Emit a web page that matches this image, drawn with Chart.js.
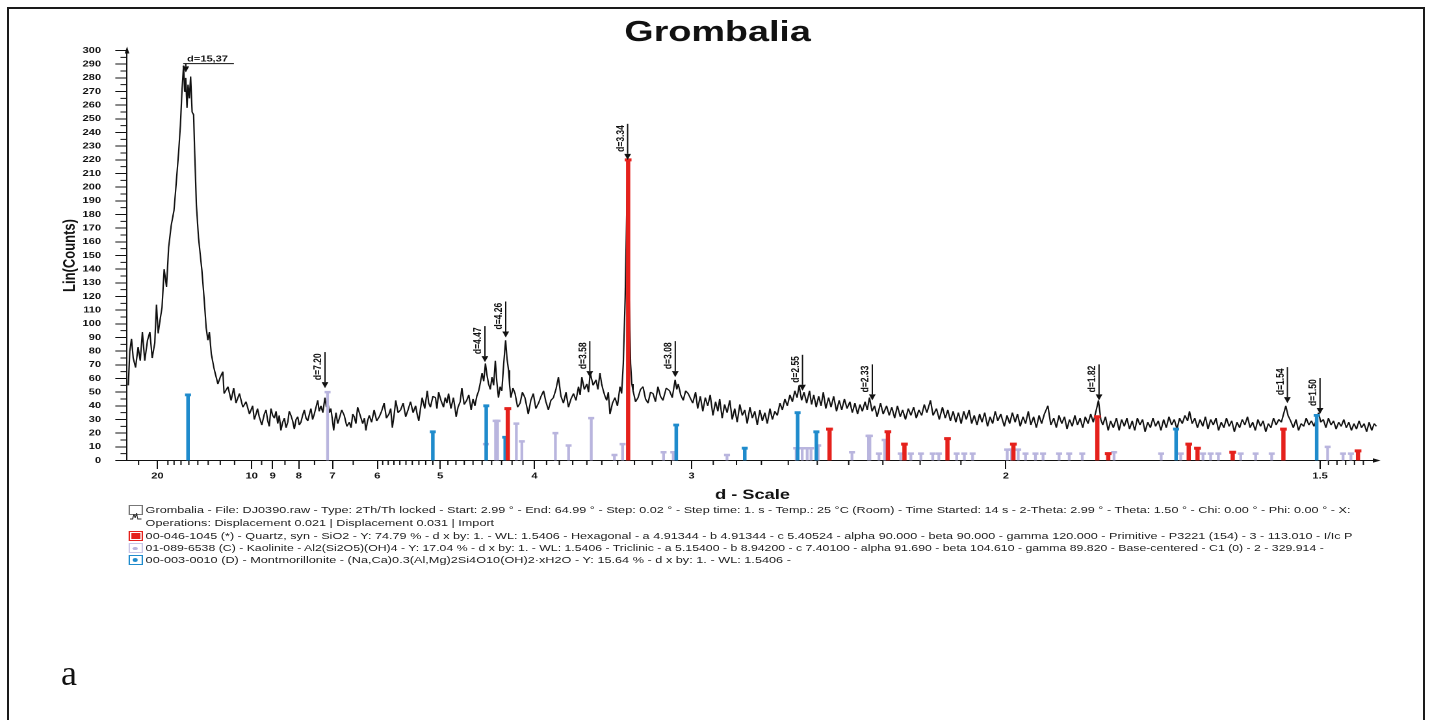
<!DOCTYPE html>
<html lang="en">
<head>
<meta charset="UTF-8">
<title>Grombalia</title>
<script src="https://cdn.jsdelivr.net/npm/chart.js"></script>
<style>
  body { margin: 0; background: #fff; font-family: "Liberation Sans", Arial, sans-serif; }
  #frame {
    position: absolute; left: 7px; top: 7px; width: 1414px; height: 730px;
    border-left: 2px solid #1a1a1a; border-top: 2px solid #1a1a1a; border-right: 2px solid #1a1a1a;
  }
  /* the whole figure is drawn 1.3x wider than tall */
  #stretch { position: absolute; left: 0; top: 0; width: 1104px; height: 720px; transform: scaleX(1.3); transform-origin: 0 0; }
  #xrd { position: absolute; left: 0; top: 0; }
  .info { position: absolute; left: 111.5px; font-size: 9.5px; line-height: 12px; color: #222; white-space: nowrap; transform-origin: 0 50%; }
  .icon { position: absolute; left: 98.5px; width: 9px; height: 8px; border: 1px solid #777; background: #fff; }
  .icon i { position: absolute; display: block; }
  #panel { position: absolute; left: 61px; top: 652px; font: 36px "Liberation Serif", "Times New Roman", serif; color: #111; }
</style>
</head>
<body>
<div id="frame"></div>
<div id="stretch">
  <canvas id="xrd" width="1104" height="510"></canvas>

  <div class="icon" style="top:505px;">
    <svg width="9" height="8" viewBox="0 0 9 8"><polyline points="0,7 2,7 3,2 4,6 5,1 6,7 9,7" fill="none" stroke="#333" stroke-width="0.8"/></svg>
  </div>
  <div class="info" style="top:504px;" data-w="927">Grombalia - File: DJ0390.raw - Type: 2Th/Th locked - Start: 2.99 ° - End: 64.99 ° - Step: 0.02 ° - Step time: 1. s - Temp.: 25 °C (Room) - Time Started: 14 s - 2-Theta: 2.99 ° - Theta: 1.50 ° - Chi: 0.00 ° - Phi: 0.00 ° - X:</div>
  <div class="info" style="top:517px;" data-w="268">Operations: Displacement 0.021 | Displacement 0.031 | Import</div>

  <div class="icon" style="top:531px; border-color:#e5211c;"><i style="left:1px;top:1px;width:7px;height:6px;background:#e5211c;"></i></div>
  <div class="info" style="top:530px;" data-w="928">00-046-1045 (*) - Quartz, syn - SiO2 - Y: 74.79 % - d x by: 1. - WL: 1.5406 - Hexagonal - a 4.91344 - b 4.91344 - c 5.40524 - alpha 90.000 - beta 90.000 - gamma 120.000 - Primitive - P3221 (154) - 3 - 113.010 - I/Ic P</div>

  <div class="icon" style="top:543px; border-color:#c9c6e6;"><i style="left:2.5px;top:2.5px;width:4px;height:3px;border-radius:2px;background:#b9b5de;"></i></div>
  <div class="info" style="top:542px;" data-w="906">01-089-6538 (C) - Kaolinite - Al2(Si2O5)(OH)4 - Y: 17.04 % - d x by: 1. - WL: 1.5406 - Triclinic - a 5.15400 - b 8.94200 - c 7.40100 - alpha 91.690 - beta 104.610 - gamma 89.820 - Base-centered - C1 (0) - 2 - 329.914 -</div>

  <div class="icon" style="top:555px; border-color:#1f8bcc;"><i style="left:2.5px;top:2px;width:4px;height:4px;border-radius:2px;background:#1f8bcc;"></i></div>
  <div class="info" style="top:554px;" data-w="496">00-003-0010 (D) - Montmorillonite - (Na,Ca)0.3(Al,Mg)2Si4O10(OH)2·xH2O - Y: 15.64 % - d x by: 1. - WL: 1.5406 -</div>
</div>
<div id="panel">a</div>

<script>
  // scan settings (Cu K-alpha)
  const wavelength = 1.5406;
  const twoThetaStart = 2.99;
  const twoThetaEnd = 64.99;

  // measured pattern, smectite peak region: 2-theta (deg) and counts
  const lowTwoTheta = [
    3.05, 3.12, 3.20, 3.28, 3.39, 3.51, 3.61, 3.71, 3.82, 3.95, 4.06, 4.17, 4.29, 4.37, 4.45, 4.54, 4.63, 4.73, 4.84, 4.94,
    5.06, 5.19, 5.26, 5.41, 5.49, 5.57, 5.64, 5.69, 5.74, 5.80, 5.85, 5.91, 5.97, 6.04, 6.11, 6.16, 6.24, 6.34, 6.50, 6.61,
    6.70, 6.78, 6.85, 6.94, 7.06, 7.12, 7.25, 7.36, 7.48, 7.54, 7.72, 7.87, 7.99, 8.10, 8.26, 8.42, 8.57, 8.73
  ];
  const lowCounts = [
    55, 80, 89, 75, 68, 83, 73, 94, 73, 88, 94, 75, 86, 114, 93, 103, 112, 140, 127, 156,
    172, 183, 196, 226, 245, 272, 289, 270, 280, 258, 275, 265, 281, 255, 253, 226, 187, 163, 139, 117,
    97, 88, 94, 78, 68, 64, 56, 61, 65, 49, 54, 44, 53, 42, 49, 39, 43, 34
  ];

  // measured pattern, middle angles
  const midTwoTheta = [
    8.88, 8.96, 9.04, 9.11, 9.19, 9.31, 9.43, 9.51, 9.59, 9.66,
    9.74, 9.82, 9.90, 9.98, 10.06, 10.13, 10.21, 10.29, 10.37, 10.45,
    10.53, 10.60, 10.68, 10.76, 10.84, 10.92, 11.00, 11.07, 11.15, 11.23,
    11.31, 11.39, 11.47, 11.55, 11.62, 11.70, 11.78, 11.86, 11.94, 12.01,
    12.09, 12.18, 12.28, 12.35, 12.41, 12.49, 12.56, 12.63, 12.69, 12.75,
    12.80, 12.88, 12.96, 13.07, 13.19, 13.31, 13.43, 13.51, 13.59, 13.66,
    13.74, 13.82, 13.94, 14.06, 14.14, 14.21, 14.29, 14.37, 14.48, 14.60,
    14.72, 14.84, 14.95, 15.07, 15.18, 15.30, 15.38, 15.46, 15.54, 15.62,
    15.73, 15.85, 15.97, 16.09, 16.20, 16.32, 16.44, 16.56, 16.63, 16.71,
    16.79, 16.87, 16.99, 17.11, 17.18, 17.26, 17.38, 17.50, 17.57, 17.65,
    17.76, 17.88, 17.96, 18.04, 18.12, 18.23, 18.35, 18.41, 18.48, 18.57,
    18.67, 18.75, 18.86, 18.98, 19.08, 19.19, 19.28, 19.37, 19.46, 19.55,
    19.63, 19.71, 19.79, 19.87, 19.95, 20.02, 20.10, 20.18, 20.26, 20.34,
    20.41, 20.49, 20.57, 20.65, 20.74, 20.83, 20.90, 20.97, 21.02, 21.08,
    21.18, 21.28, 21.40, 21.52, 21.63, 21.75, 21.83, 21.91, 22.03, 22.15,
    22.27, 22.40, 22.52, 22.64, 22.75, 22.87, 22.99, 23.11, 23.23, 23.35,
    23.47, 23.59, 23.71, 23.83, 23.95, 24.07, 24.19, 24.31, 24.39, 24.47,
    24.59, 24.71, 24.79, 24.87, 25.01, 25.15, 25.24, 25.34, 25.42, 25.50,
    25.58, 25.66, 25.74, 25.82, 25.94, 26.06, 26.18, 26.30, 26.38, 26.46,
    26.55, 26.67, 26.74, 26.81, 26.87, 26.93, 27.05, 27.17, 27.29, 27.41,
    27.53, 27.65, 27.77, 27.89, 28.01, 28.13, 28.25, 28.37, 28.53, 28.69,
    28.82, 28.96, 29.04, 29.11, 29.23, 29.35, 29.47, 29.59
  ];
  const midCounts = [
    40, 30, 34, 38, 32, 26, 34, 37, 29, 25,
    38, 33, 31, 36, 27, 33, 22, 28, 31, 24,
    28, 36, 33, 29, 23, 30, 32, 26, 28, 33,
    37, 31, 29, 34, 38, 30, 34, 39, 44, 36,
    40, 35, 46, 39, 43, 35, 38, 30, 22, 30,
    35, 27, 31, 37, 33, 25, 28, 24, 34, 32,
    27, 39, 33, 27, 31, 22, 29, 33, 28, 37,
    29, 32, 36, 42, 31, 34, 38, 24, 33, 44,
    35, 37, 42, 32, 37, 43, 35, 40, 34, 29,
    38, 46, 38, 51, 42, 39, 47, 46, 38, 50,
    44, 39, 46, 42, 49, 38, 46, 40, 32, 39,
    43, 53, 41, 44, 48, 37, 45, 40, 47, 51,
    57, 64, 58, 71, 62, 56, 52, 61, 55, 73,
    58, 46, 54, 51, 71, 88, 74, 66, 55, 46,
    53, 49, 39, 42, 50, 46, 40, 34, 44, 49,
    38, 42, 47, 51, 43, 37, 44, 46, 52, 61,
    47, 42, 50, 39, 45, 49, 44, 54, 48, 61,
    52, 56, 50, 64, 55, 59, 52, 64, 56, 51,
    47, 44, 50, 34, 42, 46, 40, 54, 49, 71,
    119, 220, 119, 71, 56, 51, 43, 46, 52, 54,
    45, 42, 50, 49, 43, 54, 47, 44, 53, 51,
    46, 59, 52, 56, 48, 44, 51, 49
  ];

  // measured pattern, high angles
  const highTwoTheta = [
    29.81, 29.95, 30.05, 30.18, 30.30, 30.42, 30.54, 30.66, 30.79, 30.92,
    31.03, 31.12, 31.24, 31.36, 31.48, 31.61, 31.73, 31.85, 31.97, 32.10,
    32.22, 32.34, 32.46, 32.59, 32.71, 32.83, 32.95, 33.08, 33.20, 33.32,
    33.44, 33.57, 33.69, 33.81, 33.93, 34.06, 34.18, 34.30, 34.42, 34.55,
    34.67, 34.79, 34.90, 35.00, 35.12, 35.24, 35.37, 35.51, 35.61, 35.72,
    35.84, 35.96, 36.08, 36.19, 36.31, 36.45, 36.57, 36.70, 36.84, 36.97,
    37.10, 37.23, 37.36, 37.50, 37.62, 37.75, 37.88, 38.00, 38.12, 38.25,
    38.36, 38.47, 38.60, 38.72, 38.85, 39.02, 39.15, 39.32, 39.45, 39.58,
    39.72, 39.86, 40.00, 40.12, 40.26, 40.40, 40.53, 40.67, 40.80, 40.93,
    41.07, 41.20, 41.33, 41.51, 41.64, 41.81, 41.95, 42.11, 42.25, 42.38,
    42.51, 42.65, 42.78, 42.91, 43.05, 43.18, 43.31, 43.45, 43.58, 43.71,
    43.85, 43.98, 44.10, 44.24, 44.38, 44.51, 44.64, 44.77, 44.90, 45.05,
    45.23, 45.37, 45.50, 45.64, 45.78, 45.90, 46.04, 46.18, 46.31, 46.45,
    46.58, 46.72, 46.86, 47.00, 47.13, 47.27, 47.45, 47.60, 47.75, 47.88,
    48.02, 48.16, 48.30, 48.43, 48.56, 48.70, 48.83, 48.97, 49.10, 49.24,
    49.37, 49.51, 49.65, 49.78, 49.92, 50.05, 50.17, 50.27, 50.41, 50.55,
    50.68, 50.82, 50.98, 51.12, 51.25, 51.39, 51.52, 51.66, 51.80, 51.93,
    52.07, 52.20, 52.34, 52.47, 52.61, 52.75, 52.88, 53.02, 53.16, 53.30,
    53.44, 53.58, 53.72, 53.86, 54.00, 54.14, 54.28, 54.42, 54.56, 54.70,
    54.80, 54.94, 55.08, 55.22, 55.36, 55.50, 55.64, 55.78, 55.92, 56.06,
    56.20, 56.34, 56.48, 56.62, 56.76, 56.90, 57.04, 57.18, 57.32, 57.46,
    57.60, 57.74, 57.88, 58.02, 58.16, 58.30, 58.44, 58.58, 58.72, 58.86,
    59.00, 59.14, 59.28, 59.42, 59.56, 59.70, 59.84, 59.94, 60.06, 60.20,
    60.35, 60.49, 60.63, 60.77, 60.91, 61.05, 61.19, 61.33, 61.47, 61.60,
    61.72, 61.84, 61.98, 62.12, 62.26, 62.40, 62.54, 62.68, 62.82, 62.96,
    63.10, 63.24, 63.38, 63.52, 63.66, 63.80, 63.94, 64.08, 64.22, 64.36,
    64.50, 64.64, 64.78, 64.90
  ];
  const highCounts = [
    42, 50, 38, 47, 36, 46, 40, 48, 33, 43,
    36, 45, 31, 41, 35, 44, 30, 38, 28, 41,
    33, 37, 27, 39, 31, 36, 26, 37, 29, 35,
    27, 38, 30, 36, 33, 42, 37, 45, 40, 48,
    43, 51, 46, 55, 44, 50, 42, 51, 41, 48,
    39, 47, 40, 50, 38, 46, 39, 47, 36, 44,
    37, 45, 38, 43, 35, 42, 34, 41, 36, 43,
    37, 46, 36, 40, 32, 42, 34, 40, 33, 39,
    31, 40, 32, 37, 30, 38, 33, 39, 31, 37,
    33, 41, 35, 44, 33, 38, 30, 39, 31, 37,
    29, 36, 28, 35, 27, 36, 30, 37, 27, 33,
    26, 34, 28, 35, 25, 32, 27, 36, 29, 34,
    25, 33, 27, 35, 28, 34, 25, 32, 27, 36,
    26, 32, 24, 33, 27, 34, 40, 26, 31, 24,
    33, 27, 32, 23, 30, 25, 33, 26, 31, 24,
    32, 27, 34, 28, 36, 44, 30, 26, 32, 22,
    29, 24, 31, 22, 30, 25, 31, 23, 29, 22,
    31, 26, 30, 21, 28, 24, 31, 25, 29, 22,
    30, 24, 32, 26, 30, 23, 31, 27, 33, 29,
    36, 27, 31, 24, 30, 25, 32, 23, 30, 26,
    31, 22, 28, 24, 31, 25, 29, 21, 28, 24,
    30, 26, 32, 24, 28, 22, 30, 25, 29, 21,
    27, 24, 31, 26, 30, 28, 35, 40, 33, 29,
    24, 30, 22, 27, 25, 31, 26, 29, 25, 30,
    35, 28, 30, 24, 31, 26, 29, 23, 28, 25,
    30, 24, 28, 22, 27, 23, 29, 24, 27, 21,
    28, 22, 27, 25
  ];

  // reference patterns: d-spacing (Å) and stick height (counts)
  const quartzD = [4.24, 3.337, 2.460, 2.286, 2.241, 2.132, 1.984, 1.823, 1.804, 1.675, 1.662, 1.612, 1.545, 1.456];
  const quartzI = [38, 220, 23, 21, 12, 16, 12, 32, 5, 12, 9, 6, 23, 7];

  const kaoliniteD = [7.13, 4.46, 4.36, 4.34, 4.16, 4.11, 3.83, 3.73, 3.57, 3.42, 3.37, 3.14, 3.09, 2.84,
    2.572, 2.551, 2.534, 2.521, 2.497, 2.390, 2.341, 2.337, 2.311, 2.295, 2.251, 2.224, 2.198, 2.168, 2.153,
    2.110, 2.092, 2.073, 1.997, 1.988, 1.974, 1.959, 1.939, 1.924, 1.893, 1.874, 1.850, 1.794, 1.717, 1.687,
    1.654, 1.643, 1.632, 1.601, 1.581, 1.560, 1.491, 1.473, 1.464];
  const kaoliniteI = [50, 12, 29, 29, 27, 14, 20, 11, 31, 4, 12, 6, 6, 4,
    9, 9, 9, 9, 11, 6, 18, 18, 5, 15, 5, 5, 5, 5, 5,
    5, 5, 5, 8, 8, 8, 5, 5, 5, 5, 5, 5, 6, 5, 5,
    5, 5, 5, 5, 5, 5, 10, 5, 5];

  const montmorilloniteD = [15.10, 5.10, 4.456, 4.265, 3.075, 2.766, 2.567, 2.503, 1.694, 1.504];
  const montmorilloniteI = [48, 21, 40, 17, 26, 9, 35, 21, 23, 33];

  // labelled peaks
  const peakD = [15.37, 7.20, 4.47, 4.26, 3.58, 3.34, 3.08, 2.55, 2.33, 1.82, 1.54, 1.50];
  const peakLabels = ['d=15,37', 'd=7.20', 'd=4.47', 'd=4.26', 'd=3.58', 'd=3.34', 'd=3.08', 'd=2.55', 'd=2.33', 'd=1.82', 'd=1.54', 'd=1.50'];
  const peakTips = [284, 53, 72, 90, 61, 220, 61, 51, 44, 44, 42, 34];

  // d-scale ticks
  const majorTickD = [20, 10, 9, 8, 7, 6, 5, 4, 3, 2, 1.5];
  const majorTickLabels = ['20', '10', '9', '8', '7', '6', '5', '4', '3', '2', '1.5'];
  const minorTickD = [25, 18, 17, 16, 15, 14, 13, 12, 11, 9.5, 8.5, 7.5, 6.5,
    5.9, 5.8, 5.7, 5.6, 5.5, 5.4, 5.3, 5.2, 5.1, 4.9, 4.8, 4.7, 4.6, 4.5, 4.4, 4.3, 4.2, 4.1,
    3.9, 3.8, 3.7, 3.6, 3.5, 3.4, 3.3, 3.2, 3.1, 2.9, 2.8, 2.7, 2.6, 2.5, 2.4, 2.3, 2.2, 2.1,
    1.49, 1.48, 1.47, 1.46, 1.45];

  const yTickLabels = { min: 0, max: 300, step: 10 };

  // the x axis runs linearly in 1/d
  const recip = tt => 2 * Math.sin(tt / 2 * Math.PI / 180) / wavelength;
  const sticks = (ds, is) => ds.map((d, i) => ({ x: 1 / d, y: is[i] }));
  const toPoints = (tts, cs) => tts.map((tt, i) => ({ x: recip(tt), y: cs[i] }));

  const scan = toPoints(lowTwoTheta, lowCounts)
    .concat(toPoints(midTwoTheta, midCounts))
    .concat(toPoints(highTwoTheta, highCounts));

  const RED = '#e5211c', BLUE = '#1f8bcc', LAV = '#b9b5de', INK = '#111';
  const FONT = '"Liberation Sans", Arial, sans-serif';

  const decorations = {
    id: 'decorations',
    afterDatasetsDraw(chart) {
      const { ctx, chartArea: a, scales: { x, y } } = chart;
      ctx.save();
      ctx.strokeStyle = INK;
      ctx.fillStyle = INK;
      ctx.lineWidth = 1;

      // minor ticks
      ctx.beginPath();
      minorTickD.forEach(d => {
        const px = x.getPixelForValue(1 / d);
        ctx.moveTo(px, a.bottom);
        ctx.lineTo(px, a.bottom + 4.5);
      });
      for (let v = yTickLabels.min + 5; v < yTickLabels.max; v += yTickLabels.step) {
        const py = y.getPixelForValue(v);
        ctx.moveTo(a.left - 5, py);
        ctx.lineTo(a.left, py);
      }
      ctx.stroke();

      // axis arrow heads
      ctx.beginPath();
      ctx.moveTo(a.left, a.top - 4);
      ctx.lineTo(a.left - 1.8, a.top + 3);
      ctx.lineTo(a.left + 1.8, a.top + 3);
      ctx.closePath();
      ctx.fill();
      ctx.beginPath();
      ctx.moveTo(a.right + 2, a.bottom);
      ctx.lineTo(a.right - 4, a.bottom - 2.2);
      ctx.lineTo(a.right - 4, a.bottom + 2.2);
      ctx.closePath();
      ctx.fill();

      // peak markers
      ctx.font = 'bold 8.5px ' + FONT;
      peakD.forEach((d, i) => {
        const px = x.getPixelForValue(1 / d);
        const tip = y.getPixelForValue(peakTips[i]);
        ctx.beginPath();
        ctx.moveTo(px, tip);
        ctx.lineTo(px - 2.6, tip - 6);
        ctx.lineTo(px + 2.6, tip - 6);
        ctx.closePath();
        ctx.fill();
        ctx.beginPath();
        if (i === 0) {
          ctx.moveTo(px, tip - 6);
          ctx.lineTo(px, tip - 8.7);
          ctx.moveTo(px - 2, tip - 8.7);
          ctx.lineTo(px + 37, tip - 8.7);
          ctx.stroke();
          ctx.textAlign = 'left';
          ctx.textBaseline = 'alphabetic';
          ctx.fillText(peakLabels[i], px + 1, tip - 11);
        } else {
          ctx.moveTo(px, tip - 6);
          ctx.lineTo(px, tip - 36);
          ctx.stroke();
          ctx.save();
          ctx.translate(px - 1, tip - 8);
          ctx.rotate(-Math.PI / 2);
          ctx.textAlign = 'left';
          ctx.textBaseline = 'bottom';
          ctx.fillText(peakLabels[i], 0, 0);
          ctx.restore();
        }
      });
      ctx.restore();
    }
  };

  const barSet = (data, color, thick, order) => ({
    type: 'bar', data, backgroundColor: color, barThickness: thick, grouped: false, order
  });
  const capSet = (data, color, r, w, order) => ({
    type: 'scatter', data, pointStyle: 'line', pointRadius: r, pointBorderWidth: w,
    pointBorderColor: color, pointBackgroundColor: color, order
  });

  new Chart(document.getElementById('xrd'), {
    data: {
      datasets: [
        { type: 'line', data: scan, borderColor: INK, borderWidth: 1.1, pointRadius: 0,
          tension: 0, borderJoinStyle: 'bevel', order: 8 },
        barSet(sticks(kaoliniteD, kaoliniteI), LAV, 1.5, 7),
        capSet(sticks(kaoliniteD, kaoliniteI), LAV, 2.3, 2.5, 6),
        barSet(sticks(montmorilloniteD, montmorilloniteI), BLUE, 2.1, 5),
        capSet(sticks(montmorilloniteD, montmorilloniteI), BLUE, 2.3, 2.8, 4),
        barSet(sticks(quartzD, quartzI), RED, 2.6, 3),
        capSet(sticks(quartzD, quartzI), RED, 2.6, 3, 2)
      ]
    },
    options: {
      responsive: false,
      animation: false,
      devicePixelRatio: 2,
      layout: { padding: 0 },
      plugins: {
        legend: { display: false },
        tooltip: { enabled: false },
        title: {
          display: true, text: 'Grombalia', color: INK,
          font: { family: FONT, size: 29, weight: 'bold' },
          padding: { top: 15.6, bottom: 0.1 }
        }
      },
      scales: {
        x: {
          type: 'linear',
          bounds: 'data',
          offset: false,
          min: recip(twoThetaStart),
          max: recip(twoThetaEnd),
          afterBuildTicks: scale => { scale.ticks = majorTickD.map(d => ({ value: 1 / d })); },
          afterFit: scale => { scale.height = 49.5; scale.paddingRight = 44; },
          ticks: {
            autoSkip: false, maxRotation: 0, color: INK, padding: 2,
            font: { family: FONT, size: 8.5, weight: 'bold' },
            callback: (v, i) => majorTickLabels[i]
          },
          grid: { offset: false, drawOnChartArea: false, drawTicks: true, tickLength: 8.5, color: INK, lineWidth: 1 },
          border: { display: true, color: INK, width: 1 },
          title: {
            display: true, text: 'd - Scale', color: INK,
            font: { family: FONT, size: 14, weight: 'bold' },
            padding: { top: 0, bottom: 6.6 }
          }
        },
        y: {
          type: 'linear',
          min: yTickLabels.min,
          max: yTickLabels.max,
          afterFit: scale => { scale.width = 97.7; },
          ticks: {
            stepSize: yTickLabels.step, color: INK, padding: 11,
            font: { family: FONT, size: 8.5, weight: 'bold' }
          },
          grid: { drawOnChartArea: false, drawTicks: true, tickLength: 9, color: INK, lineWidth: 1 },
          border: { display: true, color: INK, width: 1 },
          title: {
            display: true, text: 'Lin(Counts)', color: INK,
            font: { family: FONT, size: 13, weight: 'bold' },
            padding: { top: 46, bottom: 0 }
          }
        }
      }
    },
    plugins: [decorations]
  });

  // stretch each info line to its full width
  document.querySelectorAll('.info').forEach(el => {
    const w = parseFloat(el.dataset.w);
    el.style.transform = 'scaleX(' + (w / el.offsetWidth) + ')';
  });
</script>
</body>
</html>
